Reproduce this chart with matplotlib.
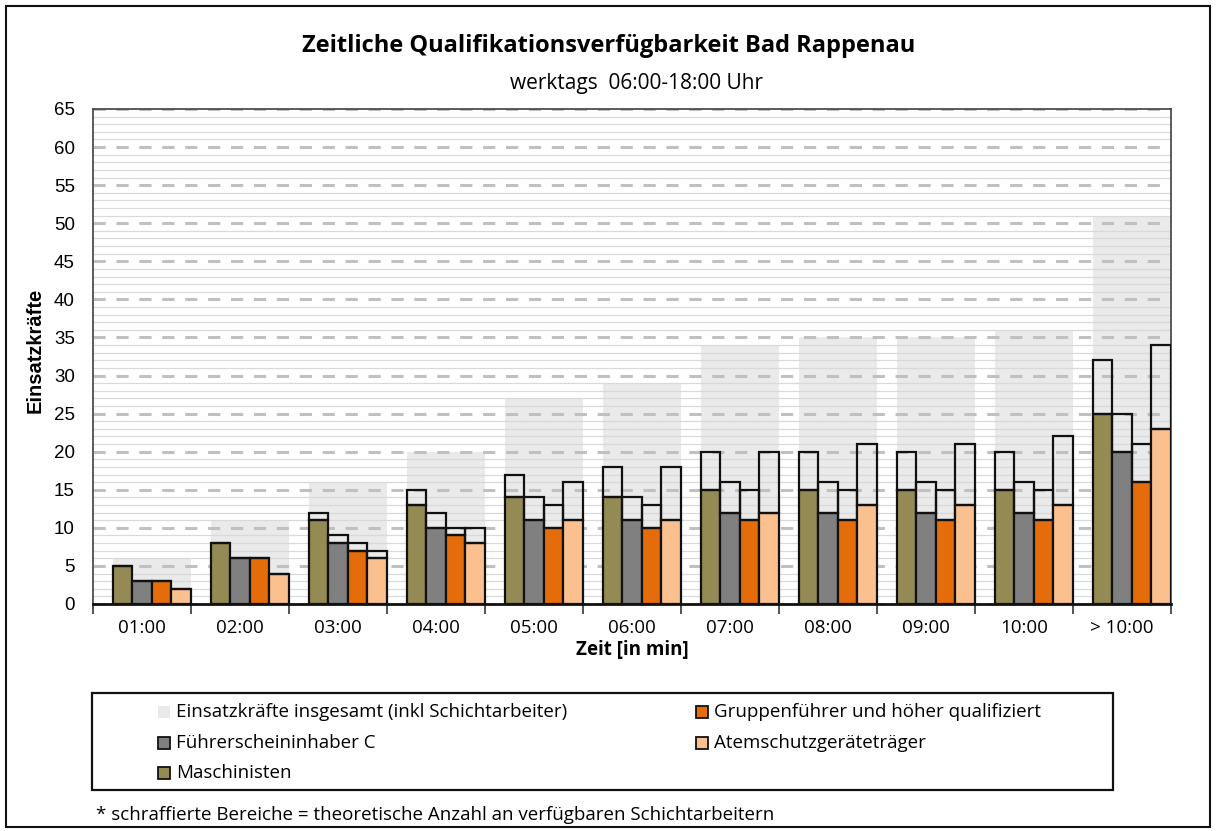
import numpy as np
import matplotlib
matplotlib.use("Agg")
import matplotlib.pyplot as plt
from matplotlib.patches import Rectangle

# Zeiten und Werte
zeiten = ["01:00", "02:00", "03:00", "04:00", "05:00", "06:00",
          "07:00", "08:00", "09:00", "10:00", "> 10:00"]
insgesamt = [6, 11, 16, 20, 27, 29, 34, 35, 35, 36, 51]

# verfügbare Kräfte ohne / mit Schichtarbeitern
maschinisten = [5, 8, 11, 13, 14, 14, 15, 15, 15, 15, 25]
maschinisten_ges = [5, 8, 12, 15, 17, 18, 20, 20, 20, 20, 32]
fuehrerschein = [3, 6, 8, 10, 11, 11, 12, 12, 12, 12, 20]
fuehrerschein_ges = [3, 6, 9, 12, 14, 14, 16, 16, 16, 16, 25]
gruppenfuehrer = [3, 6, 7, 9, 10, 10, 11, 11, 11, 11, 16]
gruppenfuehrer_ges = [3, 6, 8, 10, 13, 13, 15, 15, 15, 15, 21]
atemschutz = [2, 4, 6, 8, 11, 11, 12, 13, 13, 13, 23]
atemschutz_ges = [2, 4, 7, 10, 16, 18, 20, 21, 21, 22, 34]

farben = ["#948A54", "#808080", "#E46C0A", "#FAC090"]
grau = "#EAEAEA"
rand = "#111111"

plt.rcParams['font.family'] = ['Liberation Sans', 'DejaVu Sans']

W, H = 1217, 831
fig = plt.figure(figsize=(W / 100, H / 100), dpi=100)
ax = fig.add_axes([93 / W, 1 - 604 / H, (1171 - 93) / W, (604 - 109) / H])

x = np.arange(len(zeiten))
# Balken sitzen rechtsbündig im Kategoriefeld
mitte = x + 0.1
ax.bar(mitte, insgesamt, width=0.8, color=grau, zorder=0.5, linewidth=0)

# Raster: feine Linien je 1, gestrichelt je 5
for v in range(0, 66):
    if v % 5 == 0:
        ax.axhline(v, color="#C0C0C0", lw=2.2, ls=(0, (4, 3.5)), zorder=1)
    else:
        ax.axhline(v, color="#D9D9D9", lw=0.9, zorder=1)

bw = 0.2
reihen = [(maschinisten, maschinisten_ges), (fuehrerschein, fuehrerschein_ges),
          (gruppenfuehrer, gruppenfuehrer_ges), (atemschutz, atemschutz_ges)]
for k, (basis, gesamt) in enumerate(reihen):
    pos = mitte - 0.3 + k * bw
    ax.bar(pos, basis, width=bw, color=farben[k], edgecolor=rand, lw=1.6, zorder=3)
    extra = np.array(gesamt) - np.array(basis)
    ax.bar(pos, extra, bottom=basis, width=bw, facecolor="none",
           edgecolor=rand, lw=1.6, zorder=3)

ax.set_xlim(-0.5, len(zeiten) - 0.5)
ax.set_ylim(0, 65)
ax.set_yticks(range(0, 66, 5))
ax.tick_params(axis="y", length=0, labelsize=13.5, pad=13)
ax.set_xticks(x)
ax.set_xticklabels(zeiten, family="Open Sans")
ax.set_xticks(np.arange(-0.5, len(zeiten)), minor=True)
ax.tick_params(axis="x", which="major", length=0, labelsize=13.5, pad=11)
ax.tick_params(axis="x", which="minor", length=7, width=1.2, color="#333333")
for s in ["left", "top", "right"]:
    ax.spines[s].set_color("#404040")
    ax.spines[s].set_linewidth(1.2)
ax.spines["bottom"].set_color(rand)
ax.spines["bottom"].set_linewidth(2)

fig.text(609 / W, 1 - 46 / H, "Zeitliche Qualifikationsverfügbarkeit Bad Rappenau",
         ha="center", va="center", fontsize=17, fontweight="bold", family="Open Sans")
fig.text(636 / W, 1 - 83 / H, "werktags  06:00-18:00 Uhr",
         ha="center", va="center", fontsize=15, family="Open Sans")
fig.text(35 / W, 1 - 350 / H, "Einsatzkräfte", rotation=90,
         ha="center", va="center", fontsize=14.5, fontweight="bold")
fig.text(632 / W, 1 - 650 / H, "Zeit [in min]",
         ha="center", va="center", fontsize=13.5, fontweight="bold", family="Open Sans")

# Legende: Rahmen, Kästchen und Beschriftung in Pixelkoordinaten
eintraege = [
    ("Einsatzkräfte insgesamt (inkl Schichtarbeiter)", grau, 158, 176, 712, False),
    ("Führerscheininhaber C", farben[1], 158, 176, 743, True),
    ("Maschinisten", farben[0], 158, 176, 773, True),
    ("Gruppenführer und höher qualifiziert", farben[2], 696, 714, 712, True),
    ("Atemschutzgeräteträger", farben[3], 696, 714, 743, True),
]
fig.patches.append(Rectangle((92 / W, 1 - 790 / H), (1113 - 92) / W, 97 / H,
                             transform=fig.transFigure, fill=False,
                             edgecolor=rand, lw=1.6))
for text, farbe, kx, tx, ty, umrandet in eintraege:
    fig.patches.append(Rectangle((kx / W, 1 - (ty + 6) / H), 12 / W, 12 / H,
                                 transform=fig.transFigure, facecolor=farbe,
                                 edgecolor=rand if umrandet else "none", lw=1.3))
    fig.text(tx / W, 1 - ty / H, text, ha="left", va="center",
             fontsize=13.5, family="Open Sans")

fig.text(96 / W, 1 - 815 / H,
         "* schraffierte Bereiche = theoretische Anzahl an verfügbaren Schichtarbeitern",
         ha="left", va="center", fontsize=13.5, family="Open Sans")

fig.patches.append(Rectangle((6 / W, 4 / H), 1204 / W, 821 / H,
                             transform=fig.transFigure, fill=False,
                             edgecolor=rand, lw=1.5))

fig.savefig("out.png", dpi=100)
